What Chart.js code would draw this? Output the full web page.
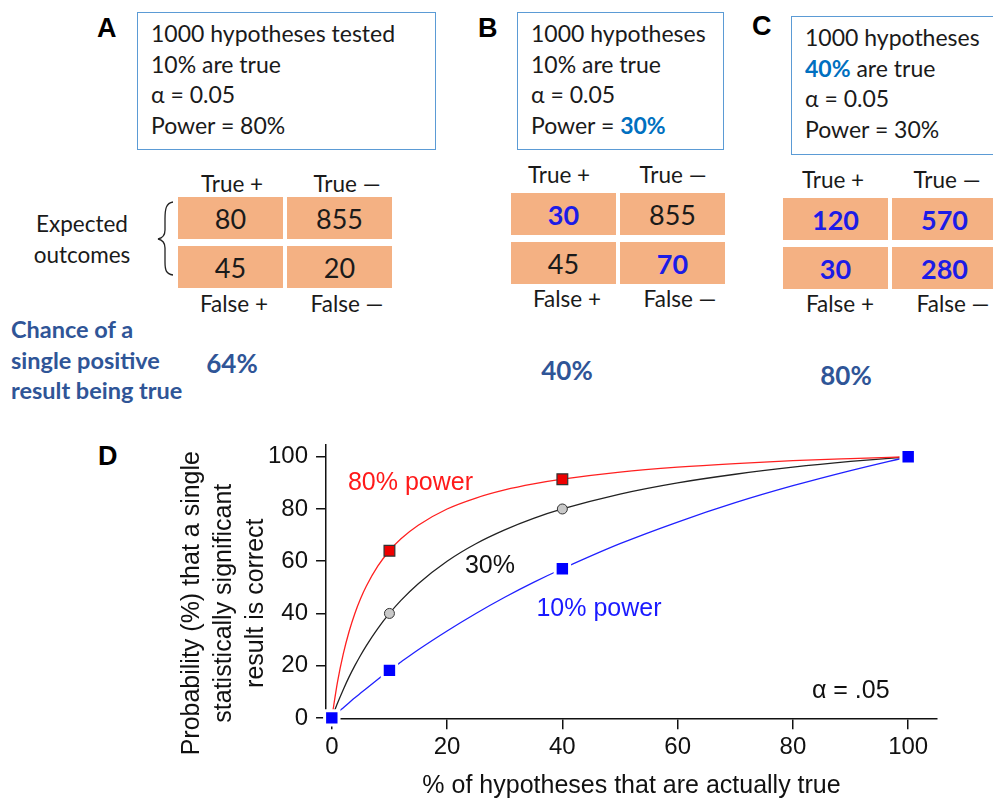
<!DOCTYPE html>
<html>
<head>
<meta charset="utf-8">
<script src="https://cdn.jsdelivr.net/npm/chart.js@4.4.0/dist/chart.umd.min.js"></script>
<style>
  html, body { margin: 0; padding: 0; background: #fff; }
  body { width: 993px; height: 801px; overflow: hidden; position: relative;
         font-family: Lato, "Open Sans", sans-serif; color: #1a1a1a; }
  .c { position: absolute; white-space: nowrap; transform: translate(-50%, -50%); }
  .letter { position: absolute; font-family: "Liberation Sans", Arial, sans-serif;
            font-weight: bold; font-size: 27px; line-height: 1; color: #000; }
  .box { position: absolute; border: 1.5px solid #5b9bd5; box-sizing: border-box;
         padding: 5px 0 0 13px; font-size: 23px; line-height: 30.5px; white-space: nowrap; }
  .cell { position: absolute; background: #f4b183; width: 105px; height: 42px;
          display: flex; align-items: center; justify-content: center; font-size: 27px; }
  .hdr { font-size: 22.5px; }
  .em { color: #1c1ce6; font-weight: bold; }
  .hl { color: #0070c0; font-weight: bold; }
  .chance { position: absolute; left: 11px; top: 314px; color: #2f5597; font-weight: bold;
            font-size: 23.5px; line-height: 30.5px; white-space: nowrap; }
  .ppv { color: #2f5597; font-weight: bold; font-size: 26px; }
  #chartWrap { position: absolute; left: 0; top: 420px; width: 993px; height: 381px; }
</style>
</head>
<body>

<div class="letter" style="left:97px; top:15px;">A</div>
<div class="letter" style="left:478px; top:15px;">B</div>
<div class="letter" style="left:752px; top:13px;">C</div>
<div class="letter" style="left:98px; top:443px;">D</div>

<div class="box" style="left:137px; top:12px; width:299px; height:138px;">
  1000 hypotheses tested<br>10% are true<br>&alpha; = 0.05<br>Power = 80%
</div>
<div class="box" style="left:517px; top:12px; width:207px; height:138px;">
  1000 hypotheses<br>10% are true<br>&alpha; = 0.05<br>Power = <span class="hl">30%</span>
</div>
<div class="box" style="left:791px; top:16px; width:230px; height:139px;">
  1000 hypotheses<br><span class="hl">40%</span> are true<br>&alpha; = 0.05<br>Power = 30%
</div>

<div class="c hdr" style="left:232px; top:183px;">True +</div>
<div class="c hdr" style="left:347px; top:183px;">True —</div>
<div class="c hdr" style="left:234px; top:303px;">False +</div>
<div class="c hdr" style="left:347px; top:303px;">False —</div>

<div class="c hdr" style="left:559px; top:174px;">True +</div>
<div class="c hdr" style="left:673px; top:174px;">True —</div>
<div class="c hdr" style="left:567px; top:298px;">False +</div>
<div class="c hdr" style="left:680px; top:298px;">False —</div>

<div class="c hdr" style="left:833px; top:179px;">True +</div>
<div class="c hdr" style="left:947px; top:179px;">True —</div>
<div class="c hdr" style="left:840px; top:303px;">False +</div>
<div class="c hdr" style="left:953px; top:303px;">False —</div>

<div class="c hdr" style="left:82px; top:223px;">Expected</div>
<div class="c hdr" style="left:82px; top:254px;">outcomes</div>
<svg style="position:absolute; left:0; top:0;" width="200" height="300">
  <path d="M173,202 C166,203 165,209 165,219 L165,230 C165,235 163,238 158,239 C163,240 165,243 165,248 L165,262 C165,270 166,274 173,275"
        fill="none" stroke="#222" stroke-width="1.3"/>
</svg>

<div class="chance">Chance of a<br>single positive<br>result being true</div>

<div id="cells"></div>

<div id="chartWrap"><canvas id="chart"></canvas></div>

<script>
// expected outcomes: [true+, true-, false+, false-]
const countsA = [80, 855, 45, 20];
const countsB = [30, 855, 45, 70];
const countsC = [120, 570, 30, 280];
const changedB = [true, false, false, true];
const changedC = [true, true, true, true];
const ppvLabels = ['64%', '40%', '80%'];

// curves
const curveX  = [0, 1, 2, 3, 4, 5, 6, 8, 10, 12, 15, 20, 25, 30, 35, 40, 50, 60, 70, 80, 90, 100];
const power80 = [0, 13.9, 24.6, 33.1, 40, 45.7, 50.5, 58.2, 64, 68.6, 73.8, 80, 84.2, 87.3, 89.6, 91.4, 94.1, 96, 97.4, 98.5, 99.3, 100];
const power30 = [0, 5.7, 10.9, 15.7, 20, 24, 27.7, 34.3, 40, 45, 51.4, 60, 66.7, 72, 76.4, 80, 85.7, 90, 93.3, 96, 98.2, 100];
const power10 = [0, 2, 3.9, 5.8, 7.7, 9.5, 11.3, 14.8, 18.2, 21.4, 26.1, 33.3, 40, 46.2, 51.9, 57.1, 66.7, 75, 82.4, 88.9, 94.7, 100];

const markerX  = [0, 10, 40, 100];
const marker80 = [0, 64, 91.4, 100];
const marker30 = [0, 40, 80, 100];
const marker10 = [0, 18.2, 57.1, 100];

const xTicks = [0, 20, 40, 60, 80, 100];
const yTicks = [0, 20, 40, 60, 80, 100];

const yTitle = ['Probability (%) that a single', 'statistically significant', 'result is correct'];
const notes = ['80% power', '30%', '10% power', '\u03b1 = .05'];
const notesAt = [[2.8, 89.9], [23.1, 58], [35.5, 41.8], [83.3, 10.3]];
const notesColor = ['#ff1a1a', '#111', '#1a1aff', '#111'];

// ---- tables A/B/C
function table(counts, changed, cols, rows, ppvAt, ppv) {
  let html = '';
  counts.forEach((v, i) => {
    const cls = changed && changed[i] ? 'cell em' : 'cell';
    html += `<div class="${cls}" style="left:${cols[i % 2]}px; top:${rows[Math.floor(i / 2)]}px;">${v}</div>`;
  });
  html += `<div class="c ppv" style="left:${ppvAt[0]}px; top:${ppvAt[1]}px;">${ppv}</div>`;
  return html;
}
document.getElementById('cells').innerHTML =
  table(countsA, null, [178, 287], [197, 246], [232, 363], ppvLabels[0]) +
  table(countsB, changedB, [511, 620], [193, 242], [567, 370], ppvLabels[1]) +
  table(countsC, changedC, [783, 892], [198, 247], [846, 375], ppvLabels[2]);

// ---- panel D
const pts = (xs, ys) => xs.map((x, i) => ({x, y: ys[i]}));
const font = '"Liberation Sans", Arial, sans-serif';

const notesPlugin = {
  id: 'notes',
  afterDatasetsDraw(chart) {
    const {ctx, chartArea, scales: {x, y}} = chart;
    ctx.save();
    ctx.font = '25px ' + font;
    ctx.textBaseline = 'middle';
    ctx.textAlign = 'left';
    notes.forEach((t, i) => {
      ctx.fillStyle = notesColor[i];
      ctx.fillText(t, x.getPixelForValue(notesAt[i][0]), y.getPixelForValue(notesAt[i][1]));
    });
    // y axis title, three lines, sits a little below the middle of the axis
    ctx.fillStyle = '#111';
    ctx.textAlign = 'center';
    ctx.translate(chartArea.left - 134, chartArea.bottom - 116);
    ctx.rotate(-Math.PI / 2);
    yTitle.forEach((t, i) => ctx.fillText(t, 0, i * 32));
    ctx.restore();
  }
};

const curve = (data, color, order) => ({
  data: pts(curveX, data), borderColor: color, borderWidth: 1.3,
  pointRadius: 0, cubicInterpolationMode: 'monotone', order
});

new Chart(document.getElementById('chart'), {
  type: 'line',
  data: {
    datasets: [
      {data: pts(markerX, marker10), showLine: false, pointStyle: 'rect', pointRadius: 10.2,
       backgroundColor: '#0000ff', borderColor: '#fff', borderWidth: 3, clip: false, order: 0},
      {data: pts(markerX, marker30), showLine: false, pointStyle: 'circle', pointRadius: 5,
       backgroundColor: '#c8c8c8', borderColor: '#333', borderWidth: 1, clip: false, order: 1},
      {data: pts(markerX, marker80), showLine: false, pointStyle: 'rect', pointRadius: 7.6,
       backgroundColor: '#ee0000', borderColor: '#333', borderWidth: 1.2, clip: false, order: 2},
      curve(power80, '#ff2020', 3),
      curve(power30, '#222', 4),
      curve(power10, '#2020ff', 5)
    ]
  },
  options: {
    responsive: true,
    maintainAspectRatio: false,
    animation: false,
    layout: {padding: {left: 260, right: 56, top: 25, bottom: 0}},
    plugins: {legend: {display: false}, tooltip: {enabled: false}},
    scales: {
      x: {
        type: 'linear', min: -1, max: 105,
        afterBuildTicks: axis => { axis.ticks = xTicks.map(v => ({value: v})); },
        grid: {drawOnChartArea: false, drawTicks: true, tickLength: 10, color: '#111', lineWidth: 1.5},
        border: {display: true, color: '#111', width: 1.5},
        ticks: {font: {size: 24, family: font}, color: '#111', padding: 4, maxRotation: 0},
        title: {display: true, text: '% of hypotheses that are actually true',
                font: {size: 25, family: font}, color: '#111', padding: {top: 5, bottom: 0}}
      },
      y: {
        type: 'linear', min: -0.5, max: 104.5,
        afterBuildTicks: axis => { axis.ticks = yTicks.map(v => ({value: v})); },
        grid: {drawOnChartArea: false, drawTicks: true, tickLength: 10, color: '#111', lineWidth: 1.5},
        border: {display: true, color: '#111', width: 1.5},
        ticks: {font: {size: 24, family: font}, color: '#111', padding: 8}
      }
    }
  },
  plugins: [notesPlugin]
});
</script>
</body>
</html>
